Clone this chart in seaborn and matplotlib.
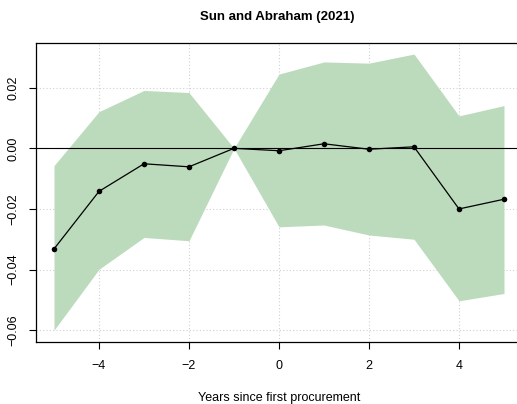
import matplotlib
matplotlib.use("Agg")
import matplotlib.pyplot as plt
import seaborn as sns
import pandas as pd

years = [-5, -4, -3, -2, -1, 0, 1, 2, 3, 4, 5]
estimate = [-0.0332, -0.0142, -0.0051, -0.0061, 0.0, -0.0008, 0.0015, -0.0003, 0.0005, -0.0200, -0.0168]
ci_low = [-0.0600, -0.0399, -0.0294, -0.0305, 0.0, -0.0259, -0.0253, -0.0286, -0.0300, -0.0503, -0.0479]
ci_high = [-0.0057, 0.0121, 0.0191, 0.0184, 0.0, 0.0245, 0.0285, 0.0281, 0.0311, 0.0107, 0.0141]
x_ticks = [-4, -2, 0, 2, 4]
y_ticks = [-0.06, -0.04, -0.02, 0.00, 0.02]
y_ticklabels = ["\u22120.06", "\u22120.04", "\u22120.02", "0.00", "0.02"]

df = pd.DataFrame({"year": years, "est": estimate, "lo": ci_low, "hi": ci_high})

sns.set_style("white")
plt.rcParams["font.family"] = ["Liberation Sans", "DejaVu Sans"]
plt.rcParams["text.color"] = "black"
plt.rcParams["axes.labelcolor"] = "black"
plt.rcParams["xtick.color"] = "black"
plt.rcParams["ytick.color"] = "black"

fig = plt.figure(figsize=(5.17, 4.04), dpi=100)
W, H = 517, 404
ax = fig.add_axes([36 / W, 1 - 342 / H, (522 - 36) / W, (342 - 43) / H])

ax.fill_between(df["year"], df["lo"], df["hi"], color="#bcdbbc", linewidth=0, zorder=1)
ax.axhline(0, color="black", linewidth=0.8, zorder=2)
sns.lineplot(data=df, x="year", y="est", ax=ax, color="black", linewidth=0.9,
             marker="o", markersize=4, markeredgewidth=0, zorder=3)

ax.set_xlim(-5.4, 5.4)
ax.set_ylim(-0.0639, 0.03475)
ax.set_xticks(x_ticks)
ax.set_xticklabels(["\u22124", "\u22122", "0", "2", "4"])
ax.set_yticks(y_ticks)
ax.set_yticklabels(y_ticklabels, rotation=90, va="center")
ax.grid(True, linestyle=(0, (1, 2)), color="#d0d0d0", linewidth=0.8)
ax.set_axisbelow(True)
for s in ax.spines.values():
    s.set_color("black")
    s.set_linewidth(0.9)
ax.tick_params(axis="both", direction="out", length=5, width=0.8, color="black",
               labelcolor="black", labelsize=9, bottom=True, left=True)
ax.tick_params(axis="x", pad=8)
ax.tick_params(axis="y", pad=7)
ax.set_xlabel("Years since first procurement", fontsize=9, labelpad=14, color="black")
ax.set_ylabel("")
fig.text(277 / W, 1 - 17 / H, "Sun and Abraham (2021)", ha="center", va="center",
         fontsize=9.5, fontweight="bold", color="black")

fig.savefig("out.png", dpi=100)
